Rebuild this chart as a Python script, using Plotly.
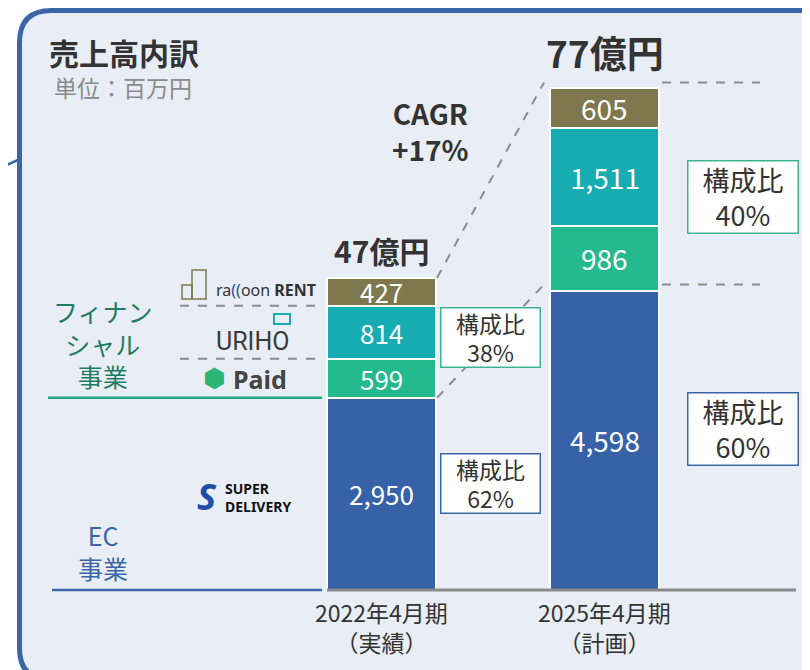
import plotly.graph_objects as go

# data (million yen)
periods = ["2022年4月期", "2025年4月期"]
period_notes = ["（実績）", "（計画）"]
ec_sales = [2950, 4598]
paid_sales = [599, 986]
uriho_sales = [814, 1511]
raccoon_sales = [427, 605]
totals_label = ["47億円", "77億円"]
share_fin = ["38%", "40%"]
share_ec = ["62%", "60%"]

segments = [
    ("EC", ec_sales, "#3762a8"),
    ("Paid", paid_sales, "#22ba8e"),
    ("URIHO", uriho_sales, "#16acb1"),
    ("raccoon RENT", raccoon_sales, "#7f774d"),
]

W, H = 810, 670
OFF = 8             # page body margin
BASE = 590 - OFF    # pixel row of the bar baseline
K = 312 / 4790      # pixels per million yen
STEP = 223          # pixels between bar centres
X0 = 381.5 - OFF    # pixel centre of first bar
BW = 109 / STEP

font = "Noto Sans CJK JP, Noto Sans, sans-serif"


def px(x):
    return (x - OFF) / W


def py(y):
    return (H + OFF - y) / H


fig = go.Figure()
for name, vals, col in segments:
    fig.add_trace(go.Bar(
        x=[0, 1], y=vals, name=name, width=BW,
        marker=dict(color=col, line=dict(color="white", width=2)),
        textposition="none", showlegend=False, hoverinfo="skip",
    ))

ann = []
# bar value labels
label_size = [26, 28]
for i in range(2):
    bottom = 0
    for name, vals, col in segments:
        ann.append(dict(x=i, y=bottom + vals[i] / 2, xref="x", yref="y", text=f"{vals[i]:,}",
                        showarrow=False, font=dict(size=label_size[i], color="white", family=font)))
        bottom += vals[i]

shapes = []
# card background
r = 32
L, T, R, B = 19.5, 10.5, 840, 680
path = (f"M {px(L+r)},{py(T)} L {px(R)},{py(T)} L {px(R)},{py(B)} L {px(L+r)},{py(B)} "
        f"Q {px(L)},{py(B)} {px(L)},{py(B-r)} L {px(L)},{py(T+r)} Q {px(L)},{py(T)} {px(L+r)},{py(T)} Z")
shapes.append(dict(type="path", path=path, xref="paper", yref="paper",
                   fillcolor="#e9eef6", line=dict(color="#3a66a8", width=5), layer="below"))
shapes.append(dict(type="line", xref="paper", yref="paper", x0=px(0), y0=py(168), x1=px(18), y1=py(160),
                   line=dict(color="#3a66a8", width=2.5)))

fin1 = paid_sales[0] + uriho_sales[0] + raccoon_sales[0]
tot1 = ec_sales[0] + fin1
tot2 = ec_sales[1] + paid_sales[1] + uriho_sales[1] + raccoon_sales[1]
dash = dict(color="#8c8c8c", width=2, dash="dash")
xr1 = px(437)
xl2 = px(544)
xr2 = px(662)
off = 6 / K
# connector lines
shapes.append(dict(type="line", xref="paper", yref="y", x0=xr1, y0=tot1, x1=xl2, y1=tot2 + off, line=dash))
shapes.append(dict(type="line", xref="paper", yref="y", x0=xr1, y0=ec_sales[0], x1=xl2, y1=ec_sales[1] + off, line=dash))
shapes.append(dict(type="line", xref="paper", yref="y", x0=xr2, y0=tot2 + off, x1=px(760), y1=tot2 + off, line=dash))
shapes.append(dict(type="line", xref="paper", yref="y", x0=xr2, y0=ec_sales[1] + off, x1=px(760), y1=ec_sales[1] + off, line=dash))
# left separators
shapes.append(dict(type="line", xref="paper", yref="y", x0=px(180), y0=tot1 - raccoon_sales[0], x1=px(322),
                   y1=tot1 - raccoon_sales[0], line=dash))
shapes.append(dict(type="line", xref="paper", yref="y", x0=px(180), y0=ec_sales[0] + paid_sales[0], x1=px(322),
                   y1=ec_sales[0] + paid_sales[0], line=dash))
shapes.append(dict(type="line", xref="paper", yref="y", x0=px(48), y0=ec_sales[0], x1=px(322), y1=ec_sales[0],
                   line=dict(color="#22a783", width=2.5)))
shapes.append(dict(type="line", xref="paper", yref="y", x0=px(52), y0=0, x1=px(322), y1=0,
                   line=dict(color="#3a66a8", width=2.5)))
shapes.append(dict(type="line", xref="paper", yref="y", x0=px(327), y0=0, x1=px(796), y1=0,
                   line=dict(color="#8a8a8a", width=3)))
# small logo icons
shapes.append(dict(type="rect", xref="paper", yref="paper", x0=px(192), y0=py(299), x1=px(206), y1=py(270),
                   fillcolor="rgba(0,0,0,0)", line=dict(color="#7f774d", width=1.5)))
shapes.append(dict(type="rect", xref="paper", yref="paper", x0=px(182), y0=py(299), x1=px(192), y1=py(285),
                   fillcolor="rgba(0,0,0,0)", line=dict(color="#7f774d", width=1.5)))
shapes.append(dict(type="rect", xref="paper", yref="paper", x0=px(274), y0=py(324), x1=px(290), y1=py(314),
                   fillcolor="rgba(0,0,0,0)", line=dict(color="#16acb1", width=2)))


def text(x, y, s, size, color="#333333", bold=False, anchor="center", family=font, align="center"):
    if bold:
        s = f"<b>{s}</b>"
    ann.append(dict(x=px(x), y=py(y), xref="paper", yref="paper", text=s, showarrow=False, align=align,
                    xanchor=anchor, yanchor="middle", font=dict(size=size, color=color, family=family)))


text(47, 52, "売上高内訳", 30, "#333333", bold=True, anchor="left")
text(52, 87, "単位：百万円", 23, "#8a8a8a", anchor="left")
text(X0 + OFF, 250, totals_label[0], 30, "#333333", bold=True)
text(X0 + OFF + STEP, 52, totals_label[1], 37, "#333333", bold=True)
text(430, 131, "<b>CAGR</b><br><b>+17%</b>", 28, "#333333")

text(103, 343, "フィナン<br>シャル<br>事業", 25, "#1f7c63")
text(103, 551, "EC<br>事業", 25, "#3a66a8")

for i in range(2):
    text(X0 + OFF + i * STEP, 627, f"{periods[i]}<br>{period_notes[i]}", 23, "#333333")

# share boxes
boxes = [
    (490.5, 337.5, 101, 61, share_fin[0], "#3fb393", 23),
    (490.5, 483.5, 101, 61, share_ec[0], "#3a66a8", 23),
    (743, 197, 112, 74, share_fin[1], "#3fb393", 27),
    (743, 428.5, 112, 74, share_ec[1], "#3a66a8", 27),
]
for bx, by, bw, bh, pct, bc, fs in boxes:
    ann.append(dict(x=px(bx), y=py(by), xref="paper", yref="paper", text=f"構成比<br>{pct}",
                    showarrow=False, xanchor="center", yanchor="middle", width=bw - 5, height=bh - 5,
                    bgcolor="white", bordercolor=bc, borderwidth=1.5, borderpad=1,
                    font=dict(size=fs, color="#333333", family=font)))

# logos as text
text(214, 290, "ra<span style='color:#1f4ea8'>((</span>oon <b>RENT</b>", 16, "#333333", anchor="left",
     family="Noto Sans, sans-serif")
text(214, 341, "URIHO", 25, "#3a3a3a", anchor="left", family="Roboto, sans-serif")
text(214, 378, "⬢", 26, "#2bb673", family="DejaVu Sans")
text(231, 379, "Paid", 25, "#444444", bold=True, anchor="left", family="Noto Sans, sans-serif")
text(207, 496, "<i>S</i>", 36, "#1f4ea8", bold=True, family="Noto Sans, sans-serif")
text(223, 497, "SUPER<br>DELIVERY", 14, "#111111", bold=True, anchor="left",
     family="Noto Sans, sans-serif", align="left")

fig.update_layout(
    width=W, height=H, margin=dict(l=0, r=0, t=0, b=0),
    barmode="stack", bargap=0,
    paper_bgcolor="white", plot_bgcolor="rgba(0,0,0,0)",
    xaxis=dict(range=[-X0 / STEP, (W - X0) / STEP], visible=False, fixedrange=True),
    yaxis=dict(range=[-(H - BASE) / K, BASE / K], visible=False, fixedrange=True),
    shapes=shapes, annotations=ann,
)

fig.write_html("out.html")
